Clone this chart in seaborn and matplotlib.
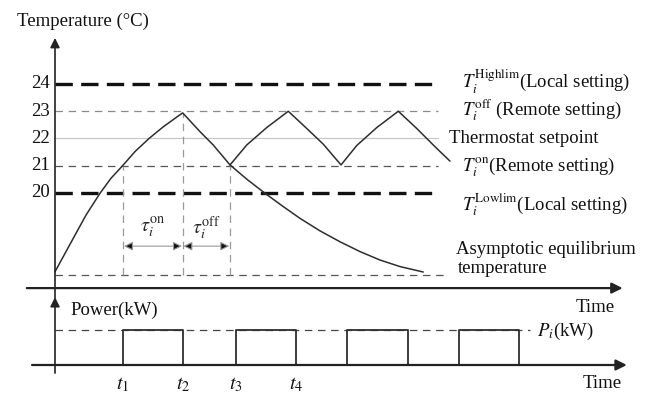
import numpy as np
import pandas as pd
import matplotlib
matplotlib.use("Agg")
import matplotlib.pyplot as plt
import seaborn as sns

# ---------------- data (time in arbitrary minutes, temperature in °C) -------------
# main trajectory: heating from equilibrium, then free decay (no switching)
main_t = [0.0, 3.05, 5.17, 7.5, 9.33, 11.38, 13.33, 15.72, 18.05, 20.0, 21.28,
          24.17, 26.38, 29.17, 31.95, 35.0, 38.05, 40.83, 44.17, 47.5, 50.83,
          54.17, 57.5, 61.38]
main_T = [17.11, 18.34, 19.19, 19.99, 20.54, 21.03, 21.52, 22.01, 22.43, 22.74, 22.94,
          22.25, 21.76, 21.03, 20.51, 19.99, 19.5, 19.07, 18.61, 18.21, 17.85,
          17.54, 17.30, 17.10]
# cycling trajectory under remote setpoints
cyc_t = [29.17, 31.95, 35.28, 38.88, 41.95, 44.72, 47.67, 50.28, 53.62, 57.22,
         60.28, 63.33, 65.83]
cyc_T = [21.03, 21.76, 22.40, 23.0, 22.37, 21.79, 21.03, 21.74, 22.40, 23.0,
         22.37, 21.70, 21.17]

levels = [24, 23, 22, 21, 20]
level_labels = [r"$T_i^{\mathrm{Highlim}}$(Local setting)",
                r"$T_i^{\mathrm{off}}$ (Remote setting)",
                "Thermostat setpoint",
                r"$T_i^{\mathrm{on}}$(Remote setting)",
                r"$T_i^{\mathrm{Lowlim}}$(Local setting)"]
T_equil = 17.0
line_end = 63.8
equil_end = 65.3

t_switch = [11.38, 21.28, 29.17]          # t1, t2, t3 in temperature panel
T_switch = [21.0, 22.94, 21.0]

pulse_on = [11.33, 30.17, 48.67, 67.33]
pulse_off = [21.33, 40.17, 58.83, 77.33]
P_rated = 1.0
t_ticks = [11.33, 21.33, 30.17, 40.17]
t_tick_labels = [r"$t_1$", r"$t_2$", r"$t_3$", r"$t_4$"]

# ---------------- style -------------
sns.set_style("white")
plt.rcParams["font.family"] = ["Liberation Serif", "DejaVu Serif"]
plt.rcParams["mathtext.fontset"] = "stix"
FS = 13.5

W, H = 648, 395
fig = plt.figure(figsize=(W / 100, H / 100), dpi=100)
XL = (-55 / 6, (W - 55) / 6)
YL_T = (24 - 216 / 27.25, 24 + 84 / 27.25)
YL_P = (-30 / 35, 1 + 30 / 35)

# top axes spans px 0..300
ax = fig.add_axes([0, 95 / H, 1, 300 / H])
# bottom axes spans px 300..395
bx = fig.add_axes([0, 0, 1, 95 / H])
for a in (ax, bx):
    a.set_facecolor("none")
    for s in a.spines.values():
        s.set_visible(False)

# --- horizontal reference lines
ax.plot([0, line_end], [24, 24], color="#111111", lw=2.4, dashes=(5.2, 2.5))
ax.plot([0, line_end], [20, 20], color="#111111", lw=2.4, dashes=(5.2, 2.5))
ax.plot([0, line_end], [23, 23], color="#8a8a8a", lw=0.9, dashes=(6, 4.5))
ax.plot([0, line_end], [21, 21], color="#555555", lw=0.9, dashes=(6, 4.5))
ax.plot([0, line_end], [22, 22], color="#c8c8c8", lw=0.9)
ax.plot([0, equil_end], [T_equil, T_equil], color="#555555", lw=0.9, dashes=(6, 4.5))

# vertical dashed lines at switching instants
for ts, Ts in zip(t_switch, T_switch):
    ax.plot([ts, ts], [T_equil, Ts], color="#9a9a9a", lw=0.9, dashes=(6, 4.5))

# --- temperature curves
df_main = pd.DataFrame({"t": main_t, "T": main_T})
df_cyc = pd.DataFrame({"t": cyc_t, "T": cyc_T})
sns.lineplot(data=df_main, x="t", y="T", ax=ax, color="#2e2e2e", lw=1.1,
             estimator=None, sort=False)
sns.lineplot(data=df_cyc, x="t", y="T", ax=ax, color="#2e2e2e", lw=1.1,
             estimator=None, sort=False)

# --- axes lines with arrows (temperature panel)
ax.annotate("", xy=(0, 25.69), xytext=(0, 16.15),
            arrowprops=dict(arrowstyle="-|>", color="#222222", lw=1.2,
                            mutation_scale=14, shrinkA=0, shrinkB=0),
            annotation_clip=False)
ax.annotate("", xy=(94.6, 16.51), xytext=(-4.7, 16.51),
            arrowprops=dict(arrowstyle="-|>", color="#222222", lw=1.6,
                            mutation_scale=16, shrinkA=0, shrinkB=0),
            annotation_clip=False)

# tick labels
for lv in levels:
    ax.text(-0.9, lv, str(lv), ha="right", va="center", fontsize=FS, color="#111111")

# level labels
lbl_y = [24.07, 23.03, 22.0, 20.93, 19.58]
lbl_x = [67.9, 67.9, 65.7, 67.9, 67.9]
for x, y, s in zip(lbl_x, lbl_y, level_labels):
    ax.text(x, y, s, ha="left", va="center", fontsize=FS, color="#111111")

ax.text(66.9, 17.92, "Asymptotic equilibrium", ha="left", va="center",
        fontsize=FS, color="#111111")
ax.text(67.1, 17.22, "temperature", ha="left", va="center",
        fontsize=FS, color="#111111")
ax.text(-6.4, 26.3, "Temperature (°C)", ha="left", va="center",
        fontsize=FS, color="#111111")
ax.text(86.7, 15.8, "Time", ha="left", va="center", fontsize=FS,
        color="#111111")

# tau arrows
T_arr = 18.05
for a0, a1 in [(t_switch[0], t_switch[1]), (t_switch[1], t_switch[2])]:
    ax.annotate("", xy=(a1, T_arr), xytext=(a0, T_arr),
                arrowprops=dict(arrowstyle="<|-|>", lw=0.8,
                                mutation_scale=13, shrinkA=0.5, shrinkB=0.5,
                                ec="#999999", fc="#111111"))
ax.text((t_switch[0] + t_switch[1]) / 2, 18.72, r"$\tau_i^{\mathrm{on}}$",
        ha="center", va="center", fontsize=FS + 1)
ax.text((t_switch[1] + t_switch[2]) / 2, 18.72, r"$\tau_i^{\mathrm{off}}$",
        ha="center", va="center", fontsize=FS + 1)

# ---------------- power panel
bx.plot([0, 79.2], [P_rated, P_rated], color="#444444", lw=0.9, dashes=(6, 4.5))
rows = []
for k, (a0, a1) in enumerate(zip(pulse_on, pulse_off)):
    for tt, pp in [(a0, 0), (a0, P_rated), (a1, P_rated), (a1, 0)]:
        rows.append({"pulse": k, "t": tt, "P": pp})
df_p = pd.DataFrame(rows)
sns.lineplot(data=df_p, x="t", y="P", units="pulse", ax=bx, color="#2e2e2e",
             lw=1.3, estimator=None, sort=False)

bx.annotate("", xy=(95.3, 0), xytext=(-3.83, 0),
            arrowprops=dict(arrowstyle="-|>", color="#222222", lw=1.6,
                            mutation_scale=16, shrinkA=0, shrinkB=0),
            annotation_clip=False)
bx.annotate("", xy=(0, 1.94), xytext=(0, -0.23),
            arrowprops=dict(arrowstyle="-|>", color="#222222", lw=1.2,
                            mutation_scale=14, shrinkA=0, shrinkB=0),
            annotation_clip=False)

bx.text(2.5, 1.57, "Power(kW)", ha="left", va="center", fontsize=FS, color="#111111")
bx.text(80.3, 0.95, r"$P_i$(kW)", ha="left", va="center", fontsize=FS, color="#111111")
bx.text(88.0, -0.52, "Time", ha="left", va="center", fontsize=FS, color="#111111")
for tt, lab in zip(t_ticks, t_tick_labels):
    bx.text(tt, -0.58, lab, ha="center", va="center", fontsize=FS + 1, color="#111111")

for a, yl in ((ax, YL_T), (bx, YL_P)):
    a.set_xlim(*XL)
    a.set_ylim(*yl)
    a.set_xticks([])
    a.set_yticks([])
    a.set_xlabel("")
    a.set_ylabel("")

fig.savefig("out.png", dpi=100)
